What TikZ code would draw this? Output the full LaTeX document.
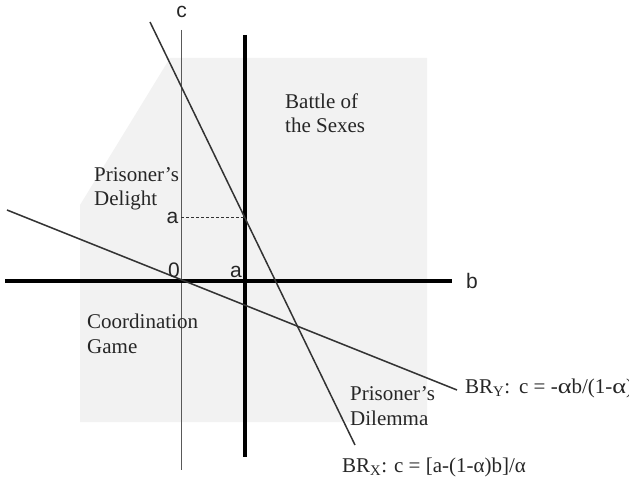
\documentclass[tikz,border=0pt]{standalone}
\usepackage{fontspec}
\setmainfont{Liberation Serif}
\newfontfamily\arialfont{Liberation Sans}
\newcommand{\wa}{\scalebox{1.25}[1]{α}}
\begin{document}
\begin{tikzpicture}[x=1pt,y=-1pt,
  region/.style={fill=gray!10,draw=none},
  thinaxis/.style={draw=black!65,line width=1pt},
  thickaxis/.style={draw=black,line width=3.8pt},
  brline/.style={draw=black!80,line width=1.5pt},
  guide/.style={draw=black!80,line width=0.8pt,dash pattern=on 3pt off 2pt},
  gamelabel/.style={anchor=base west,inner sep=0pt,text=black!85,align=left,
     font=\fontsize{21}{24.5}\selectfont},
  axlabel/.style={anchor=base,inner sep=0pt,text=black!85,
     font=\arialfont\fontsize{21}{24}\selectfont}]
\useasboundingbox (0,0) rectangle (629,481);
% shaded region
\fill[region] (170,58) -- (427,58) -- (427,422) -- (80,422) -- (80,205) -- cycle;
% coordinates
\coordinate (ctop) at (181,30);
\coordinate (cbot) at (181,470);
\coordinate (atop) at (245,35);
\coordinate (abot) at (245,457);
\coordinate (bleft) at (5,281);
\coordinate (bright) at (452,281);
\coordinate (brxs) at (150,22);
\coordinate (brxe) at (355,445);
\coordinate (brys) at (7,210);
\coordinate (brye) at (457,390);
\coordinate (dashl) at (181,217);
\coordinate (dashr) at (245,217);
% axes
\draw[thinaxis] (ctop) -- (cbot);
\draw[thickaxis] (atop) -- (abot);
\draw[thickaxis] (bleft) -- (bright);
\draw[guide] (dashl) -- (dashr);
% best-response lines
\draw[brline] (brxs) -- (brxe);
\draw[brline] (brys) -- (brye);
% axis labels
\node[axlabel] (lc) at (181.5,18) {c};
\node[axlabel] (lb) at (472,288) {b};
\node[axlabel] (lal) at (172.5,223) {a};
\node[axlabel] (lzero) at (174,277) {0};
\node[axlabel] (lab) at (236,277) {a};
% region labels (anchor = baseline of last line)
\node[gamelabel] (bos) at (285,133) {Battle of\\the Sexes};
\node[gamelabel] (pdl) at (94,206) {Prisoner’s\\Delight};
\node[gamelabel] (cg) at (87,353) {Coordination\\Game};
\node[gamelabel] (pdm) at (350,425) {Prisoner’s\\Dilemma};
\node[gamelabel] (bry) at (465,393) {BR\textsubscript{Y}:\hspace{9pt}c = -\wa b/(1-\wa)};
\node[gamelabel] (brx) at (342,472) {BR\textsubscript{X}: c = [a-(1-α)b]/α};
\end{tikzpicture}
\end{document}
